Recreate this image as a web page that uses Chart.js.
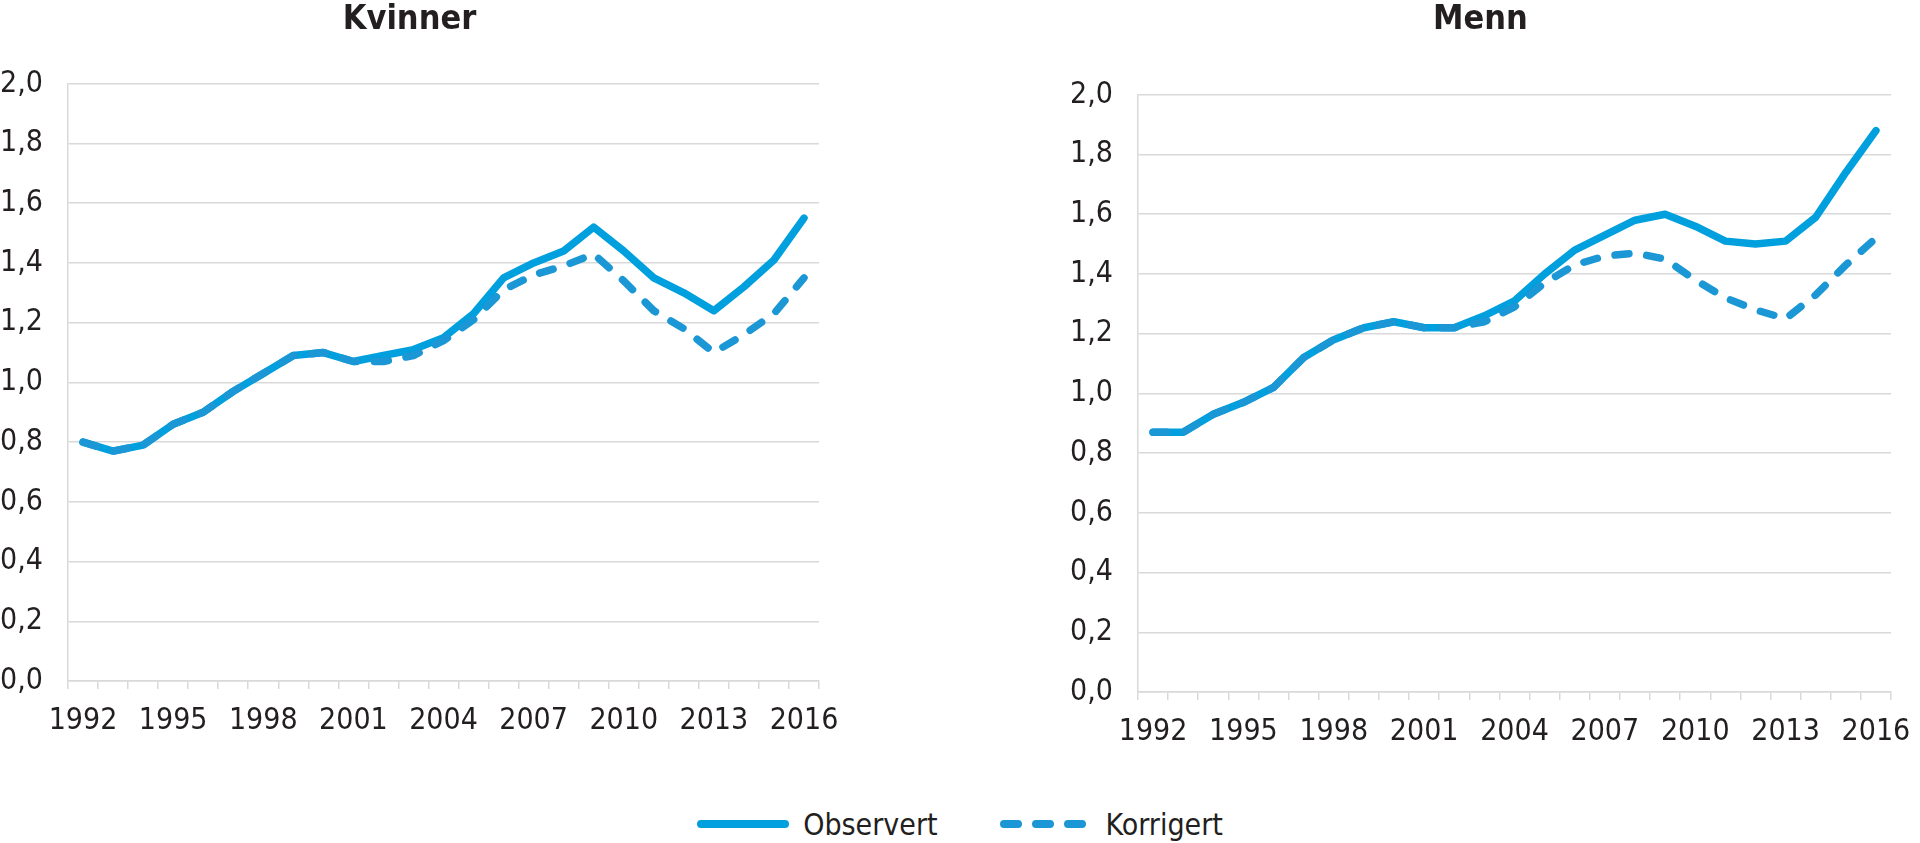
<!DOCTYPE html>
<html>
<head>
<meta charset="utf-8">
<script src="https://cdn.jsdelivr.net/npm/chart.js@4/dist/chart.umd.min.js"></script>
<style>
  html, body { margin: 0; padding: 0; background: #fff; overflow: hidden; }
  body { width: 1920px; height: 843px; position: relative; }
  .box { position: absolute; top: 0; }
  #legend {
    position: absolute; left: 0; width: 1920px; top: 804px; height: 40px;
    display: flex; justify-content: center; align-items: center;
    font: 30px "DejaVu Sans Condensed", "DejaVu Sans", sans-serif; color: #231f20;
  }
  .item { display: flex; align-items: center; margin: 0 31px; }
  .item svg { margin-right: 14px; }
</style>
</head>
<body>
<div class="box" style="left:0;width:874px;height:760px"><canvas id="kvinner"></canvas></div>
<div class="box" style="left:1070px;width:868px;height:771px"><canvas id="menn"></canvas></div>
<div id="legend">
  <div class="item">
    <svg width="92" height="12"><line x1="4" y1="6" x2="88" y2="6" stroke="#009fdd" stroke-width="8" stroke-linecap="round"/></svg>
    <span>Observert</span>
  </div>
  <div class="item">
    <svg width="92" height="12"><line x1="4" y1="6" x2="88" y2="6" stroke="#1a97d4" stroke-width="8" stroke-linecap="round" stroke-dasharray="14 18"/></svg>
    <span>Korrigert</span>
  </div>
</div>
<script>
const years = ['1992','1993','1994','1995','1996','1997','1998','1999','2000','2001','2002','2003','2004',
               '2005','2006','2007','2008','2009','2010','2011','2012','2013','2014','2015','2016'];

const kvinnerObservert = [0.80, 0.77, 0.79, 0.86, 0.90, 0.97, 1.03, 1.09, 1.10, 1.07, 1.09, 1.11, 1.15,
                          1.23, 1.35, 1.40, 1.44, 1.52, 1.44, 1.35, 1.30, 1.24, 1.32, 1.41, 1.55];
const kvinnerKorrigert = [0.80, 0.77, 0.79, 0.86, 0.90, 0.97, 1.03, 1.09, 1.10, 1.07, 1.07, 1.09, 1.14,
                          1.21, 1.31, 1.36, 1.39, 1.43, 1.34, 1.24, 1.18, 1.10, 1.16, 1.23, 1.35];

const mennObservert = [0.87, 0.87, 0.93, 0.97, 1.02, 1.12, 1.18, 1.22, 1.24, 1.22, 1.22, 1.26, 1.31,
                       1.40, 1.48, 1.53, 1.58, 1.60, 1.56, 1.51, 1.50, 1.51, 1.59, 1.74, 1.88];
const mennKorrigert = [0.87, 0.87, 0.93, 0.97, 1.02, 1.12, 1.18, 1.22, 1.24, 1.22, 1.22, 1.24, 1.29,
                       1.37, 1.43, 1.46, 1.47, 1.45, 1.38, 1.32, 1.28, 1.25, 1.33, 1.43, 1.52];

const yMin = 0, yMax = 2, yStep = 0.2;

const FONT = '"DejaVu Sans Condensed", "DejaVu Sans", sans-serif';
const TEXT = '#231f20';
const GRID = '#d9d9d9';

const makeChart = (id, title, observert, korrigert, rightPad, titleGap, canvasH, axisY) => {
  return new Chart(document.getElementById(id), {
    type: 'line',
    data: {
      labels: years,
      datasets: [
        {
          label: 'Observert',
          data: observert,
          borderColor: '#009fdd',
          borderWidth: 7.5,
          borderCapStyle: 'round',
          borderJoinStyle: 'round',
          pointRadius: 0,
          tension: 0,
          order: 2
        },
        {
          label: 'Korrigert',
          data: korrigert,
          borderColor: '#1a97d4',
          borderWidth: 7.5,
          borderDash: [14, 18],
          borderCapStyle: 'round',
          borderJoinStyle: 'round',
          pointRadius: 0,
          tension: 0,
          order: 1
        }
      ]
    },
    options: {
      responsive: true,
      maintainAspectRatio: false,
      animation: false,
      layout: { padding: { left: 0, right: rightPad, top: 0, bottom: 0 } },
      plugins: {
        legend: { display: false },
        tooltip: { enabled: false },
        title: {
          display: true,
          text: title,
          color: TEXT,
          font: { family: FONT, size: 34, weight: 'bold', lineHeight: 1.2 },
          padding: { top: 0, bottom: titleGap }
        }
      },
      scales: {
        x: {
          offset: true,
          grid: { offset: true, drawOnChartArea: false, drawTicks: true, tickLength: 8, color: GRID, lineWidth: 1.5 },
          border: { color: GRID, width: 1.5 },
          ticks: {
            autoSkip: false,
            maxRotation: 0,
            color: TEXT,
            font: { family: FONT, size: 30 },
            padding: 14,
            callback: (val, i) => (i % 3 === 0 ? years[i] : '')
          },
          afterFit: (scale) => { scale.height = canvasH - axisY; }
        },
        y: {
          min: yMin,
          max: yMax,
          grid: { color: GRID, lineWidth: 1.5, drawTicks: false },
          border: { color: GRID, width: 1.5 },
          ticks: {
            stepSize: yStep,
            color: TEXT,
            padding: 25,
            font: { family: FONT, size: 30 },
            callback: (v) => v.toFixed(1).replace('.', ',')
          },
          afterFit: (scale) => { scale.width = 68; }
        }
      }
    }
  });
};

makeChart('kvinner', 'Kvinner', kvinnerObservert, kvinnerKorrigert, 55, 43, 760, 681);
makeChart('menn', 'Menn', mennObservert, mennKorrigert, 47, 54, 771, 692);
</script>
</body>
</html>
